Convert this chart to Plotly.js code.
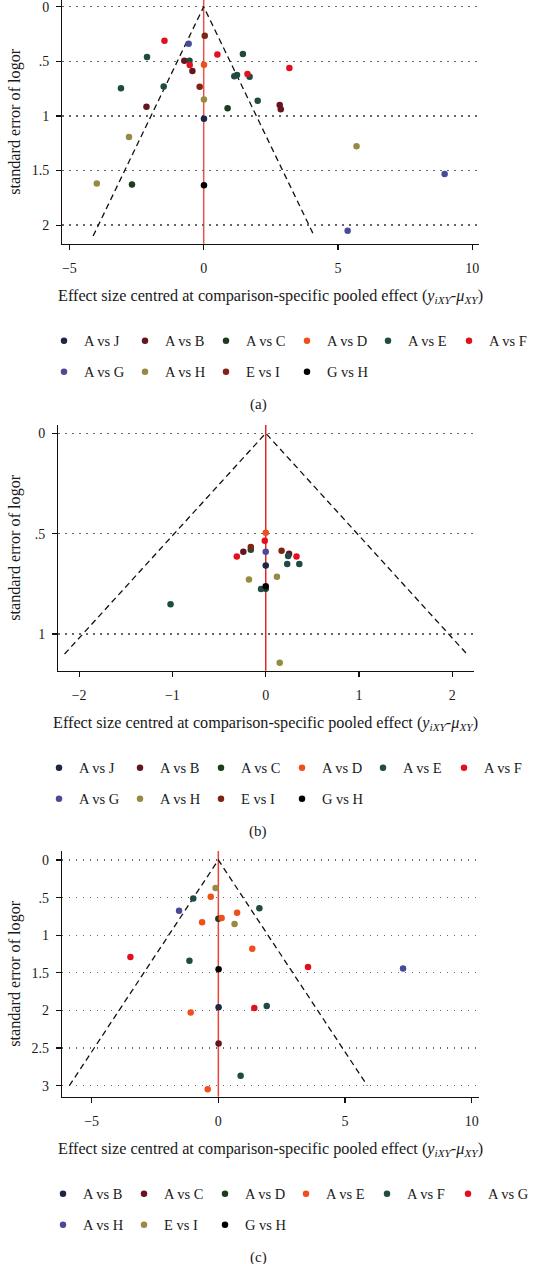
<!DOCTYPE html>
<html><head><meta charset="utf-8">
<script src="https://cdn.plot.ly/plotly-3.0.1.min.js"></script>
<style>html,body{margin:0;padding:0;background:#fff}#plot{width:533px;height:1264px}</style>
</head><body><div id="plot"></div>
<script>
// ---------- data ----------
const ticksXA = [-5, 0, 5, 10];
const ticksXB = [-2, -1, 0, 1, 2];
const ticksXC = [-5, 0, 5, 10];
const ticksYA = [0, 0.5, 1, 1.5, 2];
const tickTextYA = ['0', '.5', '1', '1.5', '2'];
const ticksYB = [0, 0.5, 1];
const tickTextYB = ['0', '.5', '1'];
const ticksYC = [0, 0.5, 1, 1.5, 2, 2.5, 3];
const tickTextYC = ['0', '.5', '1', '1.5', '2', '2.5', '3'];

const funnelSeMax = [2.1, 1.1, 3.0];
const funnelZ = 1.96;

// Panel (a)
const labelsA = ['A vs J', 'A vs B', 'A vs C', 'A vs D', 'A vs E', 'A vs F', 'A vs G', 'A vs H', 'E vs I', 'G vs H'];
const colorsA = ['#1b2744', '#661420', '#1c3c1c', '#f04e1a', '#1f4b43', '#e2101e', '#4b4a98', '#978a42', '#7e2412', '#000000'];
const a_AJ_x = [0.01];  const a_AJ_se = [1.026];
const a_AB_x = [-0.72, -0.42, -2.13, 2.83, 2.87];  const a_AB_se = [0.495, 0.589, 0.916, 0.901, 0.940];
const a_AC_x = [0.89, -2.67];  const a_AC_se = [0.931, 1.627];
const a_AD_x = [0.01];  const a_AD_se = [0.531];
const a_AE_x = [-2.11, 1.46, -0.53, 1.14, 1.24, 1.71, -3.08, -1.49, 2.01];
const a_AE_se = [0.461, 0.434, 0.495, 0.638, 0.626, 0.641, 0.748, 0.730, 0.861];
const a_AF_x = [-1.46, 0.51, -0.52, 3.19, 1.63];  const a_AF_se = [0.311, 0.437, 0.534, 0.562, 0.617];
const a_AG_x = [-0.56, 8.97, 5.36];  const a_AG_se = [0.339, 1.533, 2.052];
const a_AH_x = [0.01, -2.78, 5.69, -3.98];  const a_AH_se = [0.849, 1.194, 1.279, 1.618];
const a_EI_x = [0.04, -0.15];  const a_EI_se = [0.266, 0.733];
const a_GH_x = [0.01];  const a_GH_se = [1.634];

// Panel (b)
const labelsB = labelsA;
const colorsB = colorsA;
const b_AJ_x = [0.0];  const b_AJ_se = [0.659];
const b_AB_x = [-0.24, 0.25];  const b_AB_se = [0.591, 0.601];
const b_AC_x = [0.0];  const b_AC_se = [0.775];
const b_AD_x = [0.0];  const b_AD_se = [0.496];
const b_AE_x = [-0.16, 0.24, 0.23, 0.36, -0.05, -1.02];  const b_AE_se = [0.580, 0.612, 0.652, 0.652, 0.776, 0.852];
const b_AF_x = [-0.01, -0.31, 0.33];  const b_AF_se = [0.536, 0.614, 0.614];
const b_AG_x = [0.0];  const b_AG_se = [0.591];
const b_AH_x = [-0.18, 0.12, 0.15];  const b_AH_se = [0.729, 0.715, 1.143];
const b_EI_x = [-0.16, 0.17];  const b_EI_se = [0.567, 0.586];
const b_GH_x = [0.0];  const b_GH_se = [0.762];

// Panel (c)
const labelsC = ['A vs B', 'A vs C', 'A vs D', 'A vs E', 'A vs F', 'A vs G', 'A vs H', 'E vs I', 'G vs H'];
const colorsC = ['#1b2744', '#661420', '#1c3c1c', '#f04e1a', '#1f4b43', '#e2101e', '#4b4a98', '#978a42', '#000000'];
const c_AB_x = [0.01];  const c_AB_se = [1.958];
const c_AC_x = [0.01];  const c_AC_se = [2.441];
const c_AD_x = [0.0];  const c_AD_se = [0.780];
const c_AE_x = [-0.30, 0.74, 0.13, -0.64, 1.34, -1.09, -0.42];  const c_AE_se = [0.487, 0.700, 0.771, 0.829, 1.179, 2.029, 3.048];
const c_AF_x = [-0.99, 1.62, -1.14, 1.91, 0.88];  const c_AF_se = [0.510, 0.642, 1.338, 1.941, 2.867];
const c_AG_x = [-3.47, 3.54, 1.42];  const c_AG_se = [1.289, 1.422, 1.967];
const c_AH_x = [-1.55, 7.29];  const c_AH_se = [0.673, 1.444];
const c_EI_x = [-0.11, 0.64];  const c_EI_se = [0.372, 0.851];
const c_GH_x = [0.01];  const c_GH_se = [1.453];

const seriesA = [[a_AJ_x,a_AJ_se],[a_AB_x,a_AB_se],[a_AC_x,a_AC_se],[a_AD_x,a_AD_se],[a_AE_x,a_AE_se],[a_AF_x,a_AF_se],[a_AG_x,a_AG_se],[a_AH_x,a_AH_se],[a_EI_x,a_EI_se],[a_GH_x,a_GH_se]];
const seriesB = [[b_AJ_x,b_AJ_se],[b_AB_x,b_AB_se],[b_AC_x,b_AC_se],[b_AD_x,b_AD_se],[b_AE_x,b_AE_se],[b_AF_x,b_AF_se],[b_AG_x,b_AG_se],[b_AH_x,b_AH_se],[b_EI_x,b_EI_se],[b_GH_x,b_GH_se]];
const seriesC = [[c_AB_x,c_AB_se],[c_AC_x,c_AC_se],[c_AD_x,c_AD_se],[c_AE_x,c_AE_se],[c_AF_x,c_AF_se],[c_AG_x,c_AG_se],[c_AH_x,c_AH_se],[c_EI_x,c_EI_se],[c_GH_x,c_GH_se]];

// ---------- layout helpers ----------
const W = 533, H = 1264;
const FONT = '"Liberation Serif", "Times New Roman", serif';
const px2x = p => p / W;
const px2y = p => 1 - p / H;

const panels = [
  {key:'', series:seriesA, labels:labelsA, colors:colorsA, xl:62.3, xr:479, yt:0, yb:243.7, xr0:-5.264, xr1:10.25, yr0:2.17, yr1:-0.061, tx:ticksXA, ty:ticksYA, tty:tickTextYA, legs:['legend','legend2'], cap:'(a)', xtitleX:270, redline:'#e8524a'},
  {key:'2', series:seriesB, labels:labelsB, colors:colorsB, xl:58.3, xr:474, yt:425, yb:670.7, xr0:-2.223, xr1:2.232, yr0:1.183, yr1:-0.041, tx:ticksXB, ty:ticksYB, tty:tickTextYB, legs:['legend3','legend4'], cap:'(b)', xtitleX:265.5, redline:'#e0261e'},
  {key:'3', series:seriesC, labels:labelsC, colors:colorsC, xl:62, xr:479.3, yt:851, yb:1096.7, xr0:-6.17, xr1:10.30, yr0:3.147, yr1:-0.12, tx:ticksXC, ty:ticksYC, tty:tickTextYC, legs:['legend5','legend6'], cap:'(c)', xtitleX:270, redline:'#e8423a'}
];
const legendMarkerX = [64, 59, 63];

const traces = [];
const layout = {
  width: W, height: H,
  margin: {l:0, r:0, t:0, b:0, autoexpand:false},
  paper_bgcolor: '#fff', plot_bgcolor: '#fff',
  font: {family: FONT, color: '#1a1a1a', size: 14},
  showlegend: true,
  shapes: [], annotations: []
};

panels.forEach((p, i) => {
  const xa = 'x' + p.key, ya = 'y' + p.key;
  const xName = 'xaxis' + p.key, yName = 'yaxis' + p.key;
  layout[xName] = {
    domain: [px2x(p.xl), px2x(p.xr)], range: [p.xr0, p.xr1], anchor: ya,
    tickvals: p.tx, ticks: 'outside', ticklen: 5, tickwidth: 1.2, tickcolor: '#111',
    showline: true, linecolor: '#111', linewidth: 1.2, showgrid: false, zeroline: false,
    tickfont: {family: FONT, size: 14, color: '#1a1a1a'}, ticklabelstandoff: 6, ticklabeloverflow: 'allow'
  };
  layout[yName] = {
    domain: [px2y(p.yb), px2y(p.yt)], range: [p.yr0, p.yr1], anchor: xa,
    tickvals: p.ty, ticktext: p.tty, ticks: 'outside', ticklen: 5, tickwidth: 1.2, tickcolor: '#111',
    showline: true, linecolor: '#111', linewidth: 1.2, zeroline: false,
    showgrid: true, gridcolor: '#666', gridwidth: 1.3, griddash: '1.3px,5.7px',
    tickfont: {family: FONT, size: 14, color: '#1a1a1a'}, ticklabelstandoff: 4, ticklabeloverflow: 'allow'
  };
  // funnel
  const sm = funnelSeMax[i];
  traces.push({
    type: 'scatter', mode: 'lines', xaxis: xa, yaxis: ya, showlegend: false, hoverinfo: 'skip',
    x: [-funnelZ * sm, 0, funnelZ * sm], y: [sm, 0, sm],
    line: {color: '#111', width: 1.3, dash: '6px,4px'}
  });
  // red vertical line
  layout.shapes.push({type: 'line', xref: xa, yref: ya + ' domain', x0: 0, x1: 0, y0: 0, y1: 1,
    line: {color: p.redline, width: 1.5}, layer: 'below'});
  // points
  p.series.forEach((s, j) => {
    traces.push({
      type: 'scatter', mode: 'markers', xaxis: xa, yaxis: ya,
      name: p.labels[j], x: s[0], y: s[1],
      legend: j < 6 ? p.legs[0] : p.legs[1],
      marker: {color: p.colors[j], size: 6.5, line: {width: 0}}
    });
  });
  // legends
  const rowY = [p.yb + 97, p.yb + 128];
  p.legs.forEach((lg, k) => {
    layout[lg] = {
      orientation: 'h', x: px2x(legendMarkerX[i] - 20), xanchor: 'left',
      y: px2y(rowY[k]), yanchor: 'middle', bgcolor: 'rgba(0,0,0,0)', borderwidth: 0,
      font: {family: FONT, size: 14.5, color: '#1a1a1a'}, entrywidth: 36, entrywidthmode: 'pixels',
      traceorder: 'normal'
    };
  });
  // annotations
  layout.annotations.push({
    xref: 'paper', yref: 'paper', x: px2x(p.xtitleX), y: px2y(p.yb + 53), xanchor: 'center', yanchor: 'middle',
    showarrow: false, font: {family: FONT, size: 16.2, color: '#1a1a1a'},
    text: 'Effect size centred at comparison-specific pooled effect (<i>y</i><sub><i>iXY</i></sub>-<i>μ</i><sub><i>XY</i></sub>)'
  });
  layout.annotations.push({
    xref: 'paper', yref: 'paper', x: px2x(15), y: px2y((p.yt + p.yb) / 2), xanchor: 'center', yanchor: 'middle',
    showarrow: false, textangle: -90, font: {family: FONT, size: 16.2, color: '#1a1a1a'},
    text: 'standard error of logor'
  });
  layout.annotations.push({
    xref: 'paper', yref: 'paper', x: px2x(258), y: px2y(p.yb + 161), xanchor: 'center', yanchor: 'middle',
    showarrow: false, font: {family: FONT, size: 15, color: '#1a1a1a'}, text: p.cap
  });
});

Plotly.newPlot('plot', traces, layout, {staticPlot: true});
</script></body></html>
